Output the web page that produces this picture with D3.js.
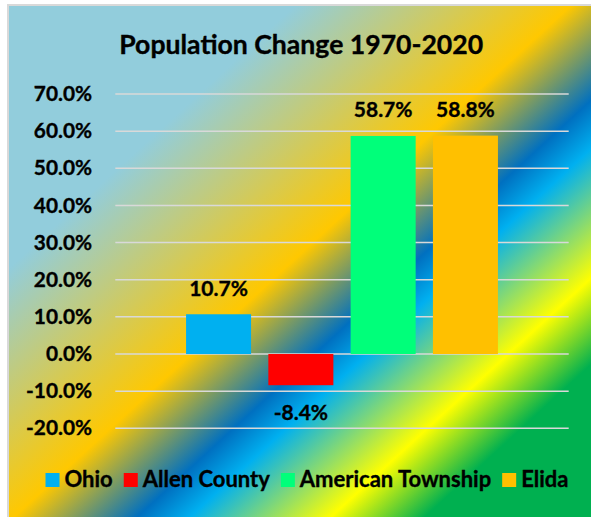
<!DOCTYPE html>
<html>
<head>
<meta charset="utf-8">
<script src="https://cdn.jsdelivr.net/npm/d3@7"></script>
<style>
  html, body { margin: 0; padding: 0; background: #ffffff; }
  svg { display: block; }
  text { font-family: Lato, "Open Sans", sans-serif; font-weight: bold; fill: #000; stroke: #000; stroke-width: 0.35px; }
</style>
</head>
<body>
<div id="chart"></div>
<script>
// ---- data ----
const title = "Population Change 1970-2020";
const seriesNames = ["Ohio", "Allen County", "American Township", "Elida"];
const seriesValues = [10.7, -8.4, 58.7, 58.8];
const seriesColors = ["#00B0F0", "#FF0000", "#00FF7A", "#FFC000"];
const yTicks = [-20, -10, 0, 10, 20, 30, 40, 50, 60, 70];

// ---- layout ----
const W = 591, H = 517;
const plot = { x0: 115.3, x1: 568.7, yTop: 94, yBottom: 428.3 };

const svg = d3.select("#chart").append("svg")
  .attr("width", W).attr("height", H);

// background gradient (Excel-like diagonal, scaled with shape)
const defs = svg.append("defs");
const grad = defs.append("linearGradient")
  .attr("id", "bg")
  .attr("gradientUnits", "objectBoundingBox")
  .attr("x1", 0).attr("y1", 0).attr("x2", 1).attr("y2", 1);
const stops = [
  [0, "#92CDDC"], [0.245, "#92CDDC"], [0.48, "#FFC800"],
  [0.585, "#0070C0"], [0.63, "#00B0F0"], [0.75, "#FFFF00"],
  [0.83, "#00B050"], [1, "#00B050"]
];
grad.selectAll("stop").data(stops).join("stop")
  .attr("offset", d => d[0]).attr("stop-color", d => d[1]);

svg.append("rect")
  .attr("x", 8).attr("y", 5).attr("width", 587).attr("height", 539)
  .attr("fill", "url(#bg)")
  .attr("stroke", "#D9D9D9").attr("stroke-width", 2);

// scales
const y = d3.scaleLinear().domain([-20, 70]).range([plot.yBottom, plot.yTop]);
const x = d3.scaleBand().domain(seriesNames)
  .range([plot.x0, plot.x1]).paddingInner(0.21).paddingOuter(0.86);

// gridlines
svg.append("g").selectAll("line").data(yTicks).join("line")
  .attr("x1", plot.x0).attr("x2", plot.x1)
  .attr("y1", d => y(d)).attr("y2", d => y(d))
  .attr("stroke", "#D9D9D9").attr("stroke-width", 1.5);

// y axis labels
const yAxis = d3.axisLeft(y).tickValues(yTicks)
  .tickFormat(d => d.toFixed(1) + "%").tickSize(0).tickPadding(0);
const gy = svg.append("g").attr("transform", "translate(92,0)").call(yAxis);
gy.select(".domain").remove();
gy.selectAll("text")
  .attr("font-family", "Lato, 'Open Sans', sans-serif")
  .attr("font-weight", "bold")
  .attr("font-size", 20.8)
  .attr("fill", "#000");

// bars
svg.append("g").selectAll("rect").data(seriesNames).join("rect")
  .attr("x", d => x(d))
  .attr("width", x.bandwidth())
  .attr("y", (d, i) => y(Math.max(0, seriesValues[i])))
  .attr("height", (d, i) => Math.abs(y(seriesValues[i]) - y(0)))
  .attr("fill", (d, i) => seriesColors[i]);

// data labels
svg.append("g").selectAll("text").data(seriesNames).join("text")
  .attr("x", d => x(d) + x.bandwidth() / 2)
  .attr("y", (d, i) => seriesValues[i] >= 0 ? y(seriesValues[i]) - 18.5 : y(seriesValues[i]) + 34.5)
  .attr("text-anchor", "middle")
  .attr("font-size", 21)
  .text((d, i) => seriesValues[i].toFixed(1) + "%");

// title
svg.append("text")
  .attr("x", 301.2).attr("y", 53.5)
  .attr("text-anchor", "middle")
  .attr("font-size", 26.6)
  .text(title);

// legend
const legend = svg.append("g");
const sq = 14, gapSqText = 5, gapItems = 11;
const items = legend.selectAll("g").data(seriesNames).join("g");
items.append("rect")
  .attr("width", sq).attr("height", sq)
  .attr("y", 473)
  .attr("fill", (d, i) => seriesColors[i]);
items.append("text")
  .attr("y", 486.7)
  .attr("font-size", 22)
  .text(d => d);
let cx = 0;
const widths = [];
items.each(function() {
  const tw = d3.select(this).select("text").node().getComputedTextLength();
  widths.push(tw);
});
const total = widths.reduce((a, w) => a + sq + gapSqText + w, 0) + gapItems * (widths.length - 1);
cx = 307 - total / 2;
items.each(function(d, i) {
  const g = d3.select(this);
  g.select("rect").attr("x", cx);
  g.select("text").attr("x", cx + sq + gapSqText);
  cx += sq + gapSqText + widths[i] + gapItems;
});
</script>
</body>
</html>
